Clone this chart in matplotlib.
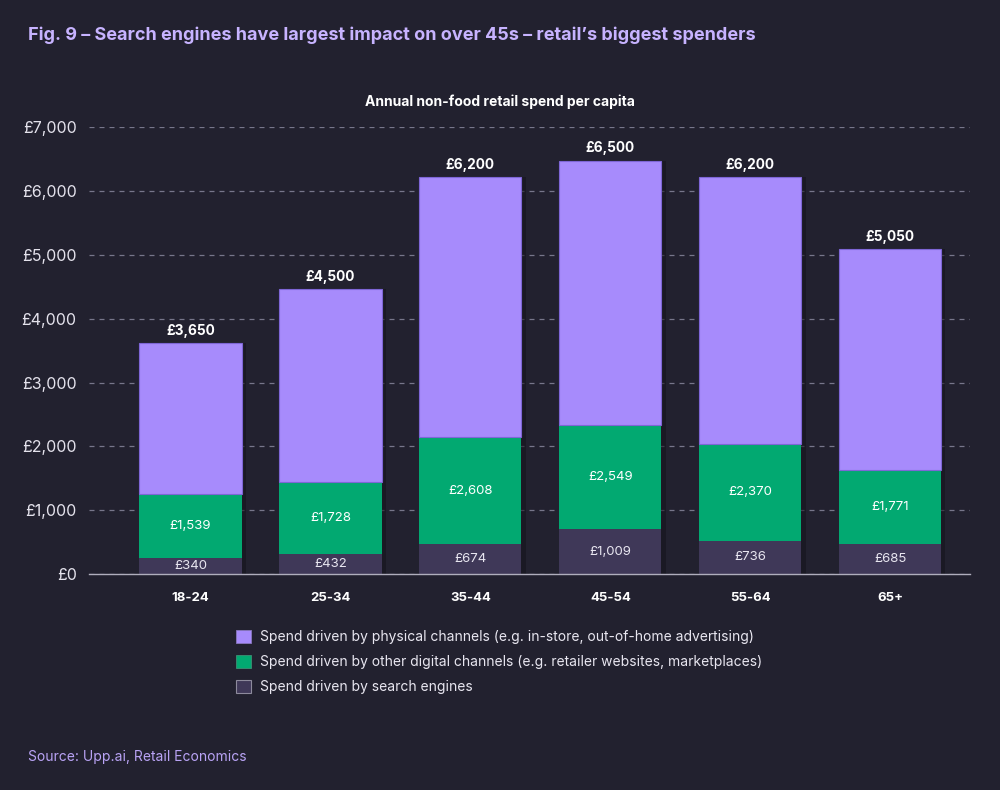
import matplotlib
matplotlib.use("Agg")
import matplotlib.pyplot as plt
import matplotlib.patheffects as pe
from matplotlib.patches import Patch
import numpy as np

# Data (bar heights as drawn, labels as printed)
ages = ["18-24", "25-34", "35-44", "45-54", "55-64", "65+"]
total_h = [3616, 4462, 6218, 6478, 6218, 5094]
digital_top_h = [1254, 1437, 2147, 2335, 2038, 1625]
search_h = [246, 313, 465, 700, 522, 475]
total_lbl = ["£3,650", "£4,500", "£6,200", "£6,500", "£6,200", "£5,050"]
digital_lbl = ["£1,539", "£1,728", "£2,608", "£2,549", "£2,370", "£1,771"]
search_lbl = ["£340", "£432", "£674", "£1,009", "£736", "£685"]
yticks = [0, 1000, 2000, 3000, 4000, 5000, 6000, 7000]
ytick_lbl = ["£0", "£1,000", "£2,000", "£3,000", "£4,000", "£5,000", "£6,000", "£7,000"]

bg = "#22212f"
purple = "#a78bfc"
green = "#02a971"
dark = "#3f3858"

plt.rcParams["font.family"] = ["Inter", "DejaVu Sans"]

fig = plt.figure(figsize=(10, 7.9), dpi=100, facecolor=bg)
ax = fig.add_axes([0.089, 0.2734, 0.881, 0.5655])
ax.set_facecolor(bg)

x = np.arange(len(ages))
search = np.array(search_h)
digital = np.array(digital_top_h) - search
physical = np.array(total_h) - np.array(digital_top_h)

shadow = [pe.SimplePatchShadow(offset=(3, 0), shadow_rgbFace="#14131c", alpha=0.55), pe.Normal()]
w = 0.73
b1 = ax.bar(x, search, w, color=dark, zorder=3)
b2 = ax.bar(x, digital, w, bottom=search, color=green, zorder=3)
b3 = ax.bar(x, physical, w, bottom=search + digital, color=purple,
            edgecolor="#7e66d6", linewidth=0.8, zorder=3)
for bars in (b1, b2, b3):
    for r in bars:
        r.set_path_effects(shadow)

for i in range(len(ages)):
    ax.text(x[i], search[i] / 2, search_lbl[i], ha="center", va="center",
            color="#e8e6f0", fontsize=9.5, zorder=4)
    ax.text(x[i], search[i] + digital[i] / 2, digital_lbl[i], ha="center", va="center",
            color="white", fontsize=9.5, zorder=4)
    ax.text(x[i], total_h[i] + 190, total_lbl[i], ha="center", va="center",
            color="white", fontsize=9.8, fontweight="bold", zorder=4)

ax.set_xlim(-0.725, 5.57)
ax.set_ylim(0, 7000)
ax.set_yticks(yticks)
ax.set_yticklabels(ytick_lbl)
ax.set_xticks(x)
ax.set_xticklabels(ages, fontweight="bold")
ax.tick_params(axis="y", length=0, pad=9, labelsize=11.5, labelcolor="#e4e2ec")
ax.tick_params(axis="x", length=0, pad=13, labelsize=9.5, labelcolor="white")
ax.yaxis.grid(True, color="#77768a", linestyle=(0, (4, 4)), linewidth=0.9, zorder=0)
ax.set_axisbelow(True)
for s in ("top", "right", "left"):
    ax.spines[s].set_visible(False)
ax.spines["bottom"].set_color("#b0aebd")
ax.spines["bottom"].set_linewidth(1)
ax.spines["bottom"].set_zorder(5)

fig.text(0.028, 0.956, "Fig. 9 – Search engines have largest impact on over 45s – retail’s biggest spenders",
         color="#c7b3ff", fontsize=13, fontweight="bold", va="center")
fig.text(0.5, 0.871, "Annual non-food retail spend per capita", color="white",
         fontsize=10, fontweight="bold", ha="center", va="center")
fig.text(0.028, 0.042, "Source: Upp.ai, Retail Economics", color="#b9a3f5",
         fontsize=10, va="center")

handles = [Patch(facecolor=purple, edgecolor="#8a78c0", linewidth=0.6),
           Patch(facecolor=green, edgecolor="#3d8f75", linewidth=0.6),
           Patch(facecolor=dark, edgecolor="#8d8a9c", linewidth=0.8)]
labels = ["Spend driven by physical channels (e.g. in-store, out-of-home advertising)",
          "Spend driven by other digital channels (e.g. retailer websites, marketplaces)",
          "Spend driven by search engines"]
leg = fig.legend(handles, labels, loc="upper left", bbox_to_anchor=(0.23, 0.21),
                 frameon=False, fontsize=10, labelcolor="#e8e6f0",
                 handlelength=1.1, handleheight=1.15, handletextpad=0.65,
                 labelspacing=0.75, borderaxespad=0)

fig.savefig("out.png", dpi=100, facecolor=bg)
